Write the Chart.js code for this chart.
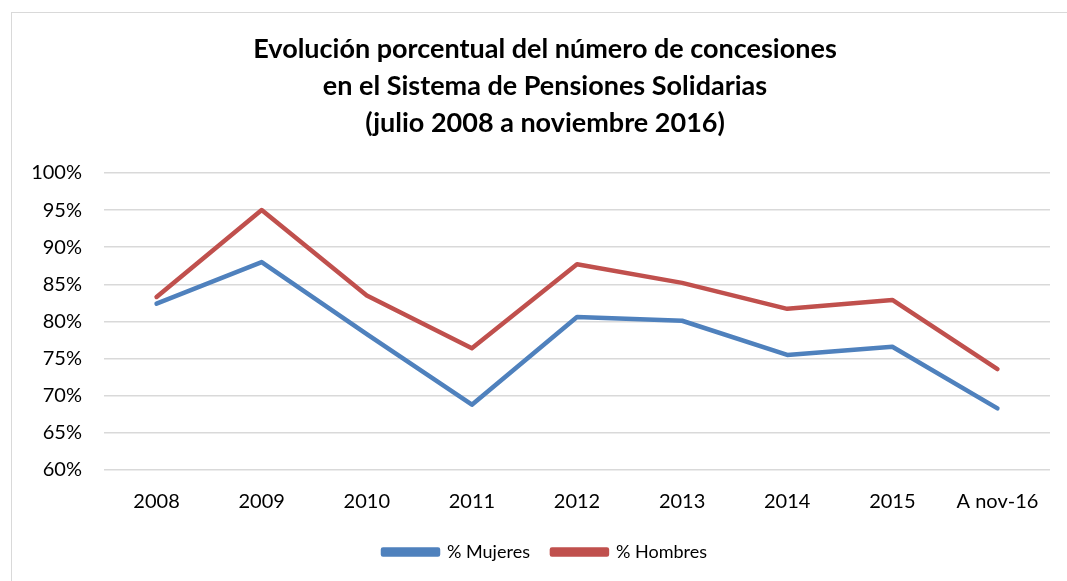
<!DOCTYPE html>
<html>
<head>
<meta charset="utf-8">
<script src="https://cdn.jsdelivr.net/npm/chart.js@4/dist/chart.umd.min.js"></script>
<style>
html,body{margin:0;padding:0;background:#fff;overflow:hidden;}
#wrap{position:absolute;left:0;top:0;width:1067px;height:581px;overflow:hidden;}
#frame{position:absolute;left:11px;top:12px;width:1100px;height:700px;border:1px solid #d9d9d9;box-sizing:border-box;}
canvas{position:absolute;left:0;top:0;}
</style>
</head>
<body>
<div id="wrap">
<div id="frame"></div>
<canvas id="c" width="1100" height="581"></canvas>
</div>
<script>
const categories = ["2008","2009","2010","2011","2012","2013","2014","2015","A nov-16"];
const mujeres = [82.4, 88.0, 78.3, 68.8, 80.6, 80.1, 75.5, 76.6, 68.3];
const hombres = [83.3, 95.0, 83.5, 76.4, 87.7, 85.2, 81.7, 82.9, 73.6];
const titleLines = ["Evolución porcentual del número de concesiones","en el Sistema de Pensiones Solidarias","(julio 2008 a noviembre 2016)"];
const yTicks = [60,65,70,75,80,85,90,95,100];

Chart.defaults.font.family = "Lato, 'Open Sans', sans-serif";
Chart.defaults.color = "#000";

const PAD_L = 24;

new Chart(document.getElementById('c'), {
  type: 'line',
  data: {
    labels: categories,
    datasets: [
      {label: '% Mujeres', data: mujeres, borderColor: '#4f81bd', backgroundColor: '#4f81bd', borderWidth: 4.5, pointRadius: 0, tension: 0, borderCapStyle: 'round', borderJoinStyle: 'round'},
      {label: '% Hombres', data: hombres, borderColor: '#c0504d', backgroundColor: '#c0504d', borderWidth: 4.5, pointRadius: 0, tension: 0, borderCapStyle: 'round', borderJoinStyle: 'round'}
    ]
  },
  options: {
    responsive: false,
    animation: false,
    layout: {padding: {left: PAD_L, right: 34, top: 0, bottom: 10}},
    plugins: {
      title: {
        display: true,
        text: titleLines,
        font: {size: 27, weight: 'bold', family: "Lato, sans-serif", lineHeight: 1.37},
        color: '#000',
        padding: {top: 31, bottom: 31}
      },
      legend: {
        position: 'bottom',
        labels: {
          boxWidth: 55, boxHeight: 5, padding: 22,
          font: {size: 18},
          color: '#000'
        }
      },
      tooltip: {enabled: false}
    },
    scales: {
      x: {
        offset: true,
        grid: {display: false, drawTicks: false},
        border: {display: false},
        ticks: {font: {size: 20}, color: '#000', padding: 20},
        afterFit: (s) => { s.height -= 13; }
      },
      y: {
        min: 60, max: 100,
        afterBuildTicks: (s) => { s.ticks = yTicks.map(v => ({value: v})); },
        grid: {color: '#d9d9d9', lineWidth: 1.5, drawTicks: false},
        border: {display: false},
        ticks: {font: {size: 20}, color: '#000', padding: 22, callback: v => v + '%'},
        afterFit: (s) => { s.width = 104 - PAD_L; }
      },
      y2: {
        position: 'right',
        min: 60, max: 100,
        grid: {display: false, drawTicks: false},
        border: {display: false},
        ticks: {display: false},
        afterFit: (s) => { s.width = 16; }
      }
    }
  }
});
</script>
</body>
</html>
